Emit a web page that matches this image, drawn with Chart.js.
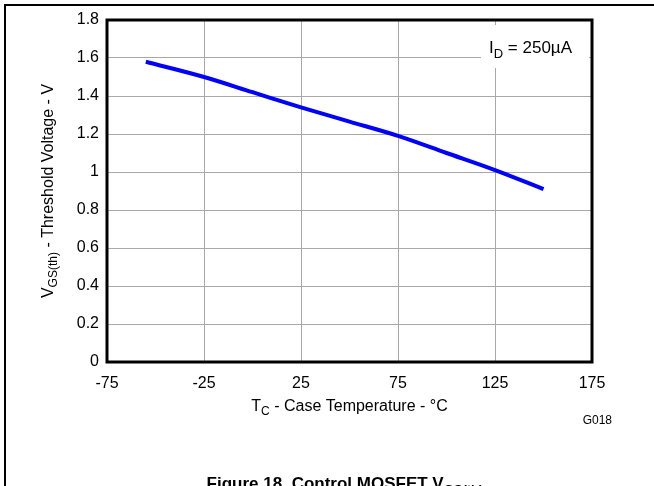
<!DOCTYPE html>
<html>
<head>
<meta charset="utf-8">
<script src="https://cdn.jsdelivr.net/npm/chart.js@4/dist/chart.umd.min.js"></script>
<style>
  html, body { margin: 0; padding: 0; background: #fff; }
  #wrap { width: 654px; height: 486px; }
</style>
</head>
<body>
<div id="wrap"><canvas id="vth" width="654" height="486"></canvas></div>
<script>
// Threshold voltage vs case temperature
const caseTemp = [-55, -25, 0, 25, 50, 75, 100, 125, 150];
const thresholdV = [1.58, 1.50, 1.42, 1.34, 1.265, 1.19, 1.10, 1.01, 0.91];
const xTickValues = [-75, -25, 25, 75, 125, 175];
const yTickValues = [0, 0.2, 0.4, 0.6, 0.8, 1, 1.2, 1.4, 1.6, 1.8];

const FONT = "'Liberation Sans', Arial, sans-serif";

// draws text made of normal and subscript pieces, returns total width
const richWidth = (ctx, parts, size) => {
    let w = 0;
    parts.forEach(p => {
        ctx.font = `${p.bold ? 'bold ' : ''}${p.sub ? Math.round(size * 0.75) : size}px ${FONT}`;
        w += ctx.measureText(p.t).width;
    });
    return w;
};
const drawRich = (ctx, parts, x, y, size, align) => {
    const w = richWidth(ctx, parts, size);
    let cx = align === 'center' ? x - w / 2 : (align === 'right' ? x - w : x);
    ctx.textAlign = 'left';
    ctx.textBaseline = 'alphabetic';
    parts.forEach(p => {
        const s = p.sub ? Math.round(size * 0.75) : size;
        ctx.font = `${p.bold ? 'bold ' : ''}${s}px ${FONT}`;
        ctx.fillText(p.t, cx, p.sub ? y + size * 0.28 : y);
        cx += ctx.measureText(p.t).width;
    });
};

const decorations = {
    id: 'decorations',
    beforeDatasetsDraw(chart) {
        const ctx = chart.ctx;
        const a = chart.chartArea;
        // label box for the test current, blanking the grid behind it
        ctx.save();
        ctx.fillStyle = '#fff';
        ctx.fillRect(a.right - 111, a.top + 5, 108, 43);
        ctx.fillStyle = '#000';
        drawRich(ctx, [{ t: 'I' }, { t: 'D', sub: true }, { t: ' = 250\u00b5A' }], a.right - 103, a.top + 33, 17, 'left');
        ctx.restore();
    },
    afterDraw(chart) {
        const ctx = chart.ctx;
        const a = chart.chartArea;
        ctx.save();
        // heavy plot frame
        ctx.strokeStyle = '#000';
        ctx.lineWidth = 3;
        ctx.strokeRect(a.left, a.top, a.right - a.left, a.bottom - a.top);

        // page rules
        ctx.lineWidth = 2;
        ctx.beginPath();
        ctx.moveTo(5, 486);
        ctx.lineTo(5, 5);
        ctx.lineTo(654, 5);
        ctx.stroke();

        ctx.fillStyle = '#000';
        // x axis title
        drawRich(ctx, [{ t: 'T' }, { t: 'C', sub: true }, { t: ' - Case Temperature - \u00b0C' }], (a.left + a.right) / 2, 411, 16, 'center');

        // y axis title
        ctx.save();
        ctx.translate(53, (a.top + a.bottom) / 2);
        ctx.rotate(-Math.PI / 2);
        drawRich(ctx, [{ t: 'V' }, { t: 'GS(th)', sub: true }, { t: ' - Threshold Voltage - V' }], 0, 0, 16, 'center');
        ctx.restore();

        // figure id
        ctx.font = `12px ${FONT}`;
        ctx.textAlign = 'right';
        ctx.fillText('G018', 612, 424);

        // caption
        drawRich(ctx, [{ t: 'Figure 18. Control MOSFET V', bold: true }, { t: 'GS(th)', sub: true, bold: true }], 345, 489, 17, 'center');
        ctx.restore();
    }
};

new Chart(document.getElementById('vth'), {
    type: 'scatter',
    data: {
        datasets: [{
            data: caseTemp.map((t, i) => ({ x: t, y: thresholdV[i] })),
            showLine: true,
            borderColor: '#0000ff',
            borderWidth: 4,
            pointRadius: 0,
            cubicInterpolationMode: 'monotone',
            fill: false
        }]
    },
    options: {
        responsive: false,
        animation: false,
        devicePixelRatio: 1,
        layout: { padding: { left: 0, top: 20, right: 62, bottom: 0 } },
        plugins: {
            legend: { display: false },
            tooltip: { enabled: false }
        },
        scales: {
            x: {
                type: 'linear',
                min: xTickValues[0],
                max: xTickValues[xTickValues.length - 1],
                afterBuildTicks: s => { s.ticks = xTickValues.map(v => ({ value: v })); },
                afterFit: s => { s.height = 124; },
                grid: { color: '#a8a8a8', lineWidth: 1, drawTicks: false, tickLength: 0 },
                border: { display: false },
                ticks: {
                    color: '#000',
                    font: { family: FONT, size: 16 },
                    padding: 12,
                    maxRotation: 0,
                    callback: v => String(v)
                }
            },
            y: {
                type: 'linear',
                min: yTickValues[0],
                max: yTickValues[yTickValues.length - 1],
                afterBuildTicks: s => { s.ticks = yTickValues.map(v => ({ value: v })); },
                afterFit: s => { s.width = 107; },
                grid: { color: '#a8a8a8', lineWidth: 1, drawTicks: false, tickLength: 0 },
                border: { display: false },
                ticks: {
                    color: '#000',
                    font: { family: FONT, size: 16 },
                    padding: 8,
                    callback: v => String(Number(v.toFixed(1)))
                }
            }
        }
    },
    plugins: [decorations]
});
</script>
</body>
</html>
